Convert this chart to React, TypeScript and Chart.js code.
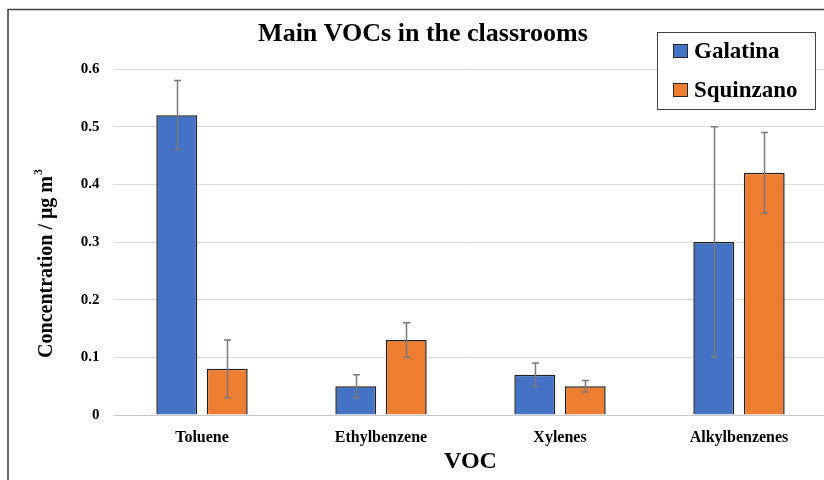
import React, { useEffect, useRef } from 'react';
import { Chart, registerables } from 'chart.js';

Chart.register(...registerables);

const categories = ['Toluene', 'Ethylbenzene', 'Xylenes', 'Alkylbenzenes'];
const seriesNames = ['Galatina', 'Squinzano'];
const galatinaValues = [0.52, 0.05, 0.07, 0.3];
const squinzanoValues = [0.08, 0.13, 0.05, 0.42];
const galatinaErrors = [0.06, 0.02, 0.02, 0.2];
const squinzanoErrors = [0.05, 0.03, 0.01, 0.07];
const chartTitle = 'Main VOCs in the classrooms';
const xAxisTitle = 'VOC';
const yAxisTitle = 'Concentration / μg m';
const yAxisTitleSup = '3';

const FONT = '"Liberation Serif", "Times New Roman", serif';
const colors = ['#4472C4', '#ED7D31'];
const CANVAS_W = 860;
const CANVAS_H = 480;

const overlayPlugin = {
  id: 'overlay',
  afterDatasetsDraw(chart: any) {
    const ctx = chart.ctx;
    const yScale = chart.scales.y;
    const errs = [galatinaErrors, squinzanoErrors];
    ctx.save();
    ctx.strokeStyle = '#7a7a7a';
    ctx.lineWidth = 1.5;
    chart.data.datasets.forEach((ds: any, i: number) => {
      const meta = chart.getDatasetMeta(i);
      meta.data.forEach((bar: any, j: number) => {
        const v = ds.data[j];
        const e = errs[i][j];
        const x = Math.round(bar.x) + 0.5;
        const yt = yScale.getPixelForValue(v + e);
        const yb = yScale.getPixelForValue(v - e);
        ctx.beginPath();
        ctx.moveTo(x, yt);
        ctx.lineTo(x, yb);
        ctx.moveTo(x - 3.5, yt);
        ctx.lineTo(x + 3.5, yt);
        ctx.moveTo(x - 3.5, yb);
        ctx.lineTo(x + 3.5, yb);
        ctx.stroke();
      });
    });
    ctx.restore();
  },
  afterDraw(chart: any) {
    const ctx = chart.ctx;
    const area = chart.chartArea;
    ctx.save();
    // outer frame
    ctx.strokeStyle = '#454545';
    ctx.lineWidth = 1.6;
    ctx.beginPath();
    ctx.moveTo(8, CANVAS_H + 5);
    ctx.lineTo(8, 9.5);
    ctx.lineTo(CANVAS_W + 5, 9.5);
    ctx.stroke();

    // title
    ctx.fillStyle = '#000';
    ctx.font = `bold 26px ${FONT}`;
    ctx.textAlign = 'center';
    ctx.textBaseline = 'middle';
    ctx.fillText(chartTitle, 423, 34);

    // x axis title
    ctx.font = `bold 24px ${FONT}`;
    ctx.fillText(xAxisTitle, (area.left + area.right) / 2, 462);

    // y axis title
    ctx.save();
    ctx.translate(47, 264);
    ctx.rotate(-Math.PI / 2);
    ctx.font = `bold 20px ${FONT}`;
    const mainW = ctx.measureText(yAxisTitle).width;
    ctx.font = `bold 12px ${FONT}`;
    const supW = ctx.measureText(yAxisTitleSup).width;
    const start = -(mainW + supW) / 2;
    ctx.textAlign = 'left';
    ctx.font = `bold 20px ${FONT}`;
    ctx.fillText(yAxisTitle, start, 0);
    ctx.font = `bold 12px ${FONT}`;
    ctx.fillText(yAxisTitleSup, start + mainW + 1, -8);
    ctx.restore();

    // legend box
    ctx.fillStyle = '#fff';
    ctx.fillRect(657.5, 32.5, 158, 77);
    ctx.strokeStyle = '#404040';
    ctx.lineWidth = 1;
    ctx.strokeRect(657.5, 32.5, 158, 77);
    const rows = [51, 90];
    seriesNames.forEach((name, i) => {
      ctx.fillStyle = colors[i];
      ctx.fillRect(673.5, rows[i] - 6.5, 14, 13);
      ctx.strokeStyle = '#262626';
      ctx.strokeRect(673.5, rows[i] - 6.5, 14, 13);
      ctx.fillStyle = '#000';
      ctx.font = `bold 23px ${FONT}`;
      ctx.textAlign = 'left';
      ctx.textBaseline = 'middle';
      ctx.fillText(name, 694, rows[i] + 1);
    });
    ctx.restore();
  },
};

export default function App() {
  const ref = useRef<HTMLCanvasElement | null>(null);
  useEffect(() => {
    if (!ref.current) return;
    const chart = new Chart(ref.current, {
      type: 'bar',
      data: {
        labels: categories,
        datasets: [
          {
            label: seriesNames[0],
            data: galatinaValues,
            backgroundColor: colors[0],
            borderColor: '#1f1f1f',
            borderWidth: 1.5,
            categoryPercentage: 0.564,
            barPercentage: 0.81,
          },
          {
            label: seriesNames[1],
            data: squinzanoValues,
            backgroundColor: colors[1],
            borderColor: '#1f1f1f',
            borderWidth: 1.5,
            categoryPercentage: 0.564,
            barPercentage: 0.81,
          },
        ],
      },
      options: {
        responsive: false,
        animation: false,
        devicePixelRatio: 1,
        layout: { padding: { left: 0, right: CANVAS_W - 828.5, top: 69, bottom: 0 } },
        plugins: {
          legend: { display: false },
          title: { display: false },
          tooltip: { enabled: false },
        },
        scales: {
          x: {
            grid: { display: false, drawTicks: false },
            border: { display: false },
            ticks: {
              color: '#000',
              padding: 13,
              font: { family: FONT, size: 16, weight: 'bold' },
            },
            afterFit: (s: any) => {
              s.height = 65;
            },
          },
          y: {
            min: 0,
            max: 0.6,
            ticks: {
              stepSize: 0.1,
              color: '#000',
              padding: 13,
              font: { family: FONT, size: 15, weight: 'bold' },
              callback: (v: any) => (Number(v) === 0 ? '0' : Number(v).toFixed(1)),
            },
            grid: {
              drawTicks: false,
              lineWidth: 1,
              color: (c: any) => (c.tick && c.tick.value === 0 ? '#c8c8c8' : '#d9d9d9'),
            },
            border: { display: false },
            afterFit: (s: any) => {
              s.width = 112.5;
            },
          },
        },
      },
      plugins: [overlayPlugin],
    } as any);
    return () => chart.destroy();
  }, []);
  return (
    <div style={{ position: 'fixed', left: 0, top: 0, width: 824, height: 480, overflow: 'hidden', background: '#fff' }}>
      <canvas ref={ref} width={CANVAS_W} height={CANVAS_H} style={{ width: CANVAS_W, height: CANVAS_H, display: 'block' }} />
    </div>
  );
}
